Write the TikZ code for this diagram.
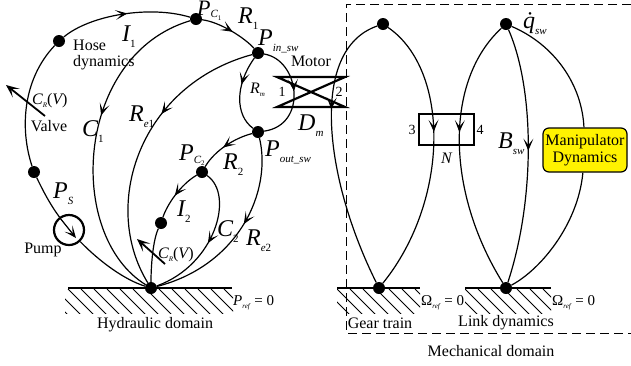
\documentclass[tikz,border=0pt]{standalone}
\usepackage{fontspec}
\setmainfont{Liberation Serif}
\usetikzlibrary{arrows.meta, decorations.markings}
\newcommand{\withsub}[2]{#1\raisebox{-6pt}{\fontsize{11}{11}\selectfont #2}}
\newcommand{\tinysub}[1]{\raisebox{-3.5pt}{\fontsize{7}{7}\selectfont #1}}

\begin{document}
\begin{tikzpicture}[
        x=1pt, y=-1pt,
        dot/.style={circle, fill=black, inner sep=0pt, minimum size=12pt},
        line/.style={draw, line width=1.2pt},
        heavy/.style={draw, line width=2.2pt},
        flow/.style={postaction={decorate}, decoration={markings, mark=at position #1 with {\arrow{Stealth[length=12pt, width=10pt, inset=6.5pt, line width=0.8pt]}}}},
        sym/.style={inner sep=0pt, anchor=base west, font=\fontsize{24}{24}\selectfont\itshape},
        minor/.style={inner sep=0pt, anchor=base west, font=\fontsize{16}{16}\selectfont\itshape},
        caption/.style={inner sep=0pt, font=\fontsize{16}{16}\selectfont},
        digit/.style={inner sep=0pt, font=\fontsize{14}{14}\selectfont},
        manip/.style={draw, line width=1.2pt, rounded corners=6pt, fill=yellow, align=center, minimum width=84pt, minimum height=44pt, inner sep=0pt, font=\fontsize{16}{17}\selectfont}
        ]
        \useasboundingbox (0,0) rectangle (631,365);

        % Ground hatching
        \foreach \gleft/\gright/\hstart/\hend in {68/232/65/233, 337/420/337/420, 465/551/465/551} {
            \begin{scope}
                \clip (\hstart,289) rectangle (\hend,313);
                \foreach \hx in {-26,-13,...,200}
                    \draw [line width=0.8pt] (\gleft+\hx,289) -- ++(26,26);
            \end{scope}
            \draw [line width=2.4pt] (\gleft,288) -- (\gright,288);
        }

        % Nodes
        \node [dot] (gndhyd) at (151,288) {};
        \node [dot] (ps) at (34,172) {};
        \node [dot] (hose) at (59,41) {};
        \node [dot] (pcone) at (196,19) {};
        \node [dot] (pin) at (258,53) {};
        \node [dot] (pout) at (258,132) {};
        \node [dot] (pctwo) at (202,172) {};
        \node [dot] (itwo) at (161,223) {};
        \node [dot] (gearup) at (383,24) {};
        \node [dot] (geardown) at (379,288) {};
        \node [dot] (linkup) at (506,24) {};
        \node [dot] (linkdown) at (506,288) {};
        \node [circle, draw, line width=2.2pt, inner sep=0pt, minimum size=30pt] (pump) at (69,230) {};
        \node [draw, line width=1.6pt, minimum width=55pt, minimum height=31pt, inner sep=0pt] (gearbox) at (446.5,129.5) {};
        \node [manip] (dynamics) at (585,150) {Manipulator\\Dynamics};

        \coordinate (pumptail) at (60,218);
        \coordinate (pumptip) at (76,238);
        \coordinate (valvetail) at (45,116);
        \coordinate (valvetip) at (6,85);
        \coordinate (grvtail) at (165,264);
        \coordinate (grvtip) at (137,239);
        \coordinate (mottl) at (277,77);
        \coordinate (mottr) at (345,77);
        \coordinate (motbl) at (277,107);
        \coordinate (motbr) at (345,107);
        \coordinate (boxtl) at (346,4);
        \coordinate (boxtr) at (631,4);
        \coordinate (boxbl) at (346,333);
        \coordinate (boxbr) at (631,333);

        % Labels
        \node [sym] (lbps) at (53,198) {\withsub{P}{S}};
        \node [sym] (lbione) at (122,41) {\withsub{I}{\upshape 1}};
        \node [sym, font=\fontsize{22}{22}\selectfont\itshape] (lbpcone) at (197,15) {P\raisebox{-2pt}{\fontsize{11}{11}\selectfont C\tinysub{\upshape 1}}};
        \node [sym] (lbrone) at (238,23) {\withsub{R}{\upshape 1}};
        \node [sym] (lbpin) at (258,45) {\withsub{P}{in\_sw}};
        \node [minor] (lbrm) at (250,93) {R\tinysub{m}};
        \node [sym] (lbdm) at (298,130) {\withsub{D}{m}};
        \node [sym] (lbpout) at (265,156) {\withsub{P}{out\_sw}};
        \node [sym] (lbpctwo) at (179,160) {P\raisebox{-3pt}{\fontsize{11}{11}\selectfont C\raisebox{-2pt}{\fontsize{7}{7}\selectfont\upshape 2}}};
        \node [sym] (lbrtwo) at (223,169) {\withsub{R}{\upshape 2}};
        \node [sym] (lbreone) at (129,121) {\withsub{R}{e\upshape 1}};
        \node [sym] (lbcone) at (82,136) {\withsub{C}{\upshape 1}};
        \node [sym] (lbitwo) at (177,216) {\withsub{I}{\upshape 2}};
        \node [sym] (lbctwo) at (217,236) {\withsub{C}{\upshape 2}};
        \node [sym] (lbretwo) at (246,245) {\withsub{R}{e\upshape 2}};
        \node [sym] (lbq) at (523,28) {\withsub{\.{q}}{sw}};
        \node [sym] (lbb) at (498,148) {\withsub{B}{sw}};
        \node [minor] (lbgrv) at (32,104) {C\tinysub{R}{\upshape(}V{\upshape)}};
        \node [minor] (lbgrvtwo) at (158,258) {C\tinysub{R}{\upshape(}V{\upshape)}};
        \node [minor] (lbn) at (441,163) {N};
        \node [minor, font=\fontsize{15}{15}\selectfont] (lbprefzero) at (233,305) {\textit{P}\tinysub{\textit{ref}} = 0};
        \node [minor, font=\fontsize{15}{15}\selectfont] (lbomone) at (421,305) {Ω\tinysub{\textit{ref}} = 0};
        \node [minor, font=\fontsize{15}{15}\selectfont] (lbomtwo) at (552,305) {Ω\tinysub{\textit{ref}} = 0};
        \node [caption, align=left, anchor=north west] (lbhose) at (73,40) {Hose\\dynamics};
        \node [caption] (lbvalve) at (49,126) {Valve};
        \node [caption] (lbpump) at (43,250) {Pump};
        \node [caption] (lbmotor) at (311,61) {Motor};
        \node [caption] (lbhyd) at (155,325) {Hydraulic domain};
        \node [caption] (lbgear) at (380,323) {Gear train};
        \node [caption] (lblink) at (506,323) {Link dynamics};
        \node [caption] (lbmech) at (491,351) {Mechanical domain};
        \node [digit] (lbone) at (282,92) {1};
        \node [digit] (lbtwo) at (339,92) {2};
        \node [digit] (lbthree) at (412,130) {3};
        \node [digit] (lbfour) at (480,130) {4};

        % Edges
        \path [line] (ps) .. controls (45,195) and (52,207) .. (pump);
        \path [line] (pump) .. controls (100,262) and (125,280) .. (gndhyd);
        \path [line] (ps) .. controls (20,130) and (22,80) .. (hose);
        \path [line, flow=0.52] (hose) .. controls (90,15) and (150,5) .. (pcone);
        \path [line, flow=0.55] (pcone) .. controls (220,22) and (245,38) .. (pin);
        \path [line, flow=0.42] (pcone) .. controls (75,55) and (65,235) .. (gndhyd);
        \path [line, flow=0.38] (pin) .. controls (140,85) and (100,205) .. (gndhyd);
        \path [line, flow=0.38] (pin) .. controls (235,85) and (235,115) .. (pout);
        \path [line, flow=0.48] (pin) .. controls (300,60) and (308,125) .. (pout);
        \path [line, flow=0.55] (pout) .. controls (235,138) and (215,150) .. (pctwo);
        \path [line, flow=0.55] (pctwo) .. controls (180,185) and (167,205) .. (itwo);
        \path [line] (itwo) .. controls (153,240) and (151,265) .. (gndhyd);
        \path [line, flow=0.52] (pctwo) .. controls (235,195) and (215,265) .. (gndhyd);
        \path [line, flow=0.45] (pout) .. controls (272,190) and (240,265) .. (gndhyd);
        \path [line, flow=0.36] (gearup) .. controls (308,50) and (325,180) .. (geardown);
        \path [line, flow=0.42] (gearup) .. controls (450,70) and (450,200) .. (geardown);
        \path [line, flow=0.42] (linkup) .. controls (445,80) and (445,190) .. (linkdown);
        \path [line, flow=0.48] (linkup) .. controls (535,90) and (535,200) .. (linkdown);
        \path [line] (linkup) .. controls (555,45) and (582,85) .. (dynamics);
        \path [line] (dynamics) .. controls (578,225) and (540,270) .. (linkdown);

        % Arrows and motor
        \draw [line width=1.8pt, -{Stealth[length=13pt, width=11pt, inset=6.5pt]}] (valvetail) -- (valvetip);
        \draw [line width=1.8pt, -{Stealth[length=13pt, width=11pt, inset=6.5pt]}] (grvtail) -- (grvtip);
        \draw [line width=1.2pt, -{Stealth[length=12pt, width=10pt, inset=6.5pt]}] (pumptail) -- (pumptip);
        \path [heavy] (mottl) -- (mottr) -- (motbl) -- (motbr) -- cycle;
        \draw [dash pattern=on 9pt off 5pt, line width=0.8pt] (boxtr) -- (boxtl) -- (boxbl) -- (boxbr);
\end{tikzpicture}
\end{document}
